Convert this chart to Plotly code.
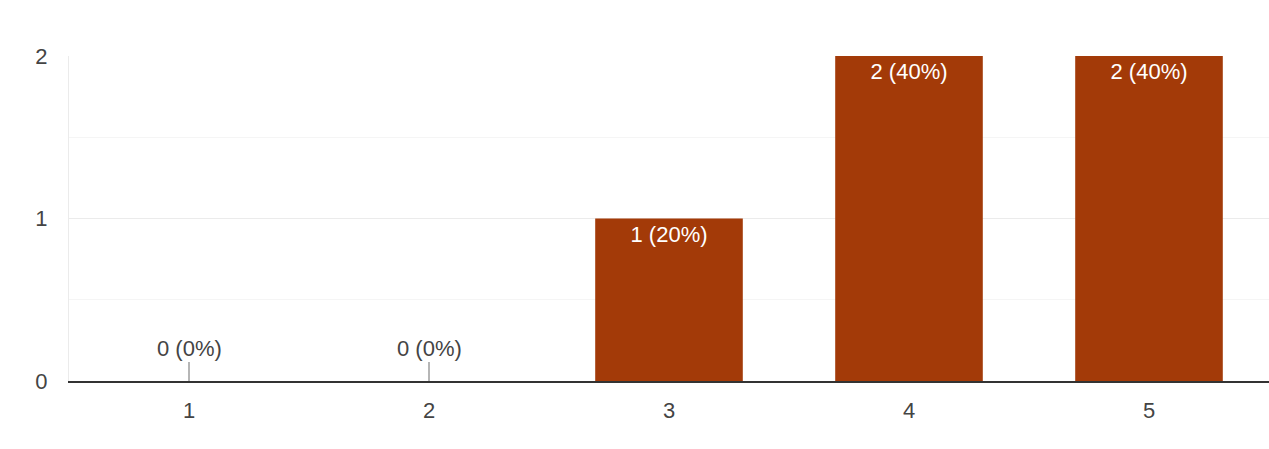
import plotly.graph_objects as go

categories = ["1", "2", "3", "4", "5"]
counts = [0, 0, 1, 2, 2]
y_ticks = [0, 1, 2]

total = sum(counts)
labels = [f"{c} ({round(100 * c / total)}%)" for c in counts]

BAR = "#a33a08"
FONT = "Liberation Sans, Arial, sans-serif"
FS = 22

fig = go.Figure()
fig.add_trace(go.Bar(
    x=categories,
    y=counts,
    marker=dict(color=BAR, line=dict(width=0)),
    text=[l if c > 0 else "" for l, c in zip(labels, counts)],
    textposition="inside",
    insidetextanchor="end",
    textangle=0,
    textfont=dict(color="white", size=FS, family=FONT),
    cliponaxis=False,
    hoverinfo="skip",
))

for i, (c, l) in enumerate(zip(counts, labels)):
    if c == 0:
        fig.add_annotation(
            x=i, y=c, text=l, showarrow=True, arrowhead=0, arrowwidth=1.5,
            arrowcolor="#9e9e9e", ax=0, ay=-33, standoff=0,
            font=dict(size=FS, color="#444444", family=FONT),
        )

fig.update_layout(
    width=1269, height=449,
    margin=dict(l=69, r=0, t=56, b=68, autoexpand=False),
    paper_bgcolor="white", plot_bgcolor="white",
    bargap=0.385,
    showlegend=False,
    font=dict(family=FONT, size=FS, color="#444444"),
    uniformtext=dict(minsize=FS, mode="show"),
)
fig.update_xaxes(
    type="category", range=[-0.5, 4.5], automargin=False,
    showline=True, linecolor="#333333", linewidth=1.5,
    ticks="outside", ticklen=9, tickcolor="rgba(0,0,0,0)",
    showgrid=False, zeroline=False,
    tickfont=dict(size=FS, color="#444444", family=FONT),
)
fig.update_yaxes(
    range=[0, 2], tickvals=y_ticks, ticktext=[str(v) for v in y_ticks],
    automargin=False,
    showgrid=True, gridcolor="#ebebeb", gridwidth=1,
    minor=dict(tickvals=[0.5, 1.5], showgrid=True, gridcolor="#f5f5f5", gridwidth=1),
    showline=True, linecolor="#ebebeb", linewidth=1,
    ticks="outside", ticklen=16, tickcolor="rgba(0,0,0,0)",
    zeroline=False,
    tickfont=dict(size=FS, color="#444444", family=FONT),
)

fig.write_html(
    "out.html",
    config={"displayModeBar": False},
    post_script=(
        "document.documentElement.style.overflow='hidden';"
        "document.body.style.margin='0';document.body.style.overflow='hidden';"
    ),
)
